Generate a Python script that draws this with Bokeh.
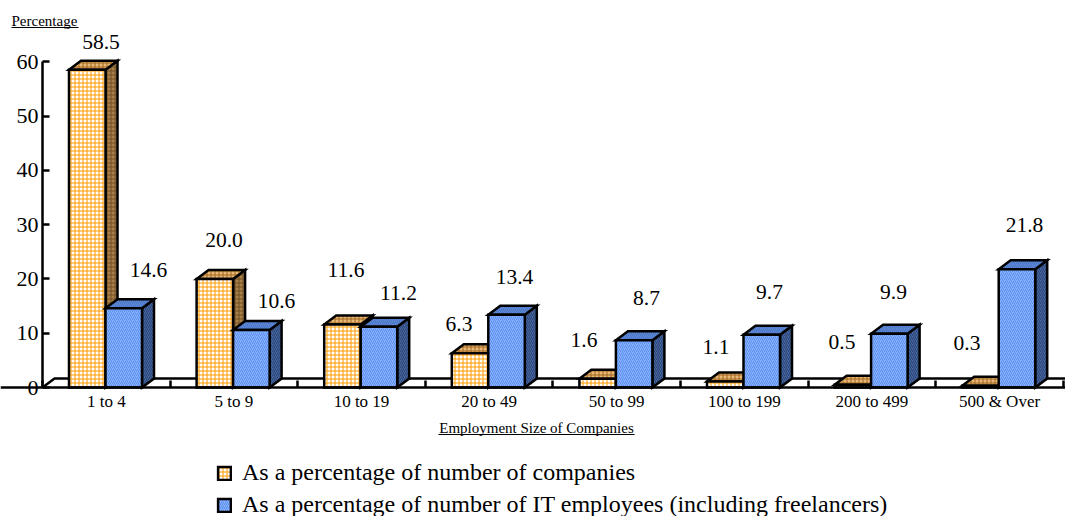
from bokeh.plotting import figure
from bokeh.models import (ColumnDataSource, LinearAxis, FixedTicker, Range1d, Legend, LegendItem)
from bokeh.core.properties import value
from bokeh.embed import file_html
from bokeh.resources import INLINE

categories = ["1 to 4", "5 to 9", "10 to 19", "20 to 49", "50 to 99", "100 to 199", "200 to 499", "500 & Over"]
companies = [58.5, 20.0, 11.6, 6.3, 1.6, 1.1, 0.5, 0.3]
employees = [14.6, 10.6, 11.2, 13.4, 8.7, 9.7, 9.9, 21.8]
y_ticks = [0, 10, 20, 30, 40, 50, 60]
series_names = ["As a percentage of number of companies",
                "As a percentage of number of IT employees (including freelancers)"]

W, H = 1065, 516
X0, Y0 = 42.0, 387.0          # pixel position of the chart origin
PX_X, PX_Y = 127.6, 5.43      # pixels per category / per percent
DX, DY = 12 / PX_X, 9 / PX_Y  # 3-D depth in data units
FONT = "Liberation Serif"
LW = 2.5

def dx(px): return (px - X0) / PX_X
def dy(py): return (Y0 - py) / PX_Y

p = figure(width=W, height=H, output_backend="svg", toolbar_location=None,
           x_range=Range1d(dx(0), dx(W)), y_range=Range1d(dy(H), dy(0)),
           x_axis_type=None, y_axis_type=None, min_border=0, outline_line_color=None,
           background_fill_color="white")
p.grid.visible = False

# floor
p.line([0, DX, dx(W)], [0, DY, DY], line_color="black", line_width=LW)

# axes
yax = LinearAxis(fixed_location=0, ticker=FixedTicker(ticks=y_ticks), bounds=(0, 60))
yax.major_tick_in, yax.major_tick_out = 7, 0
yax.minor_tick_line_color = None
yax.axis_line_width = LW
yax.major_tick_line_width = LW
yax.major_label_text_font = FONT
yax.major_label_text_font_size = "22px"
yax.major_label_text_color = "black"
yax.major_label_standoff = 4
p.add_layout(yax, "left")

xticks = list(range(0, 9))
xax = LinearAxis(fixed_location=0, ticker=FixedTicker(ticks=xticks),
                 major_label_overrides={t: "" for t in xticks})
xax.major_tick_in, xax.major_tick_out = 7, 0
xax.minor_tick_line_color = None
xax.axis_line_width = LW
xax.major_tick_line_width = LW
p.add_layout(xax, "below")

centres = [i + 0.5 for i in range(len(categories))]
xlab = LinearAxis(fixed_location=0, ticker=FixedTicker(ticks=centres),
                  major_label_overrides={c: t for c, t in zip(centres, categories)})
xlab.axis_line_color = None
xlab.major_tick_line_color = None
xlab.minor_tick_line_color = None
xlab.major_label_text_font = FONT
xlab.major_label_text_font_size = "17px"
xlab.major_label_text_color = "black"
xlab.major_label_standoff = -2
p.add_layout(xlab, "below")

BAR_W = 36.5 / PX_X
OFF = (26.5) / PX_X

def bars(vals, left_off, fill, fill_hatch, pat, top_c, top_h, side_c, side_h, scale):
    xl = [i + left_off for i in range(len(vals))]
    xr = [x + BAR_W for x in xl]
    tops = dict(
        xs=[[a, a + DX, b + DX, b] for a, b in zip(xl, xr)],
        ys=[[v, v + DY, v + DY, v] for v in vals])
    sides = dict(
        xs=[[b, b + DX, b + DX, b] for b in xr],
        ys=[[0, DY, v + DY, v] for v in vals])
    common = dict(line_color="black", line_width=LW, line_join="miter",
                  hatch_pattern=pat, hatch_scale=scale, hatch_weight=1)
    p.patches("xs", "ys", source=ColumnDataSource(sides), fill_color=side_c, hatch_color=side_h, **common)
    p.patches("xs", "ys", source=ColumnDataSource(tops), fill_color=top_c, hatch_color=top_h, **common)
    src = ColumnDataSource(dict(x=[(a + b) / 2 for a, b in zip(xl, xr)], top=vals))
    return p.vbar(x="x", top="top", bottom=0, width=BAR_W, source=src, fill_color=fill,
                  hatch_color=fill_hatch, **common)

r1 = bars(companies, OFF, "#ffffff", "#ff9a00", "cross", "#e8b878", "#a06820", "#a88048", "#705028", 4)
r2 = bars(employees, OFF + BAR_W, "#8ab4ff", "#5a8cf0", "right_diagonal_line", "#5f8ad8", "#4a74c4", "#46659c", "#2a4478", 4)

# value labels, each offset by hand from its bar top as in the reference
xo1 = [101 - 87.25, 224 - 214.85, 346 - 342.45, 459 - 470.05, 584 - 597.65, 716 - 725.25, 842 - 852.85, 967 - 980.45]
yo1 = [-28, -39, -55, -29, -39, -35, -43, -43]
xo2 = [149 - 124.25, 277 - 251.85, 399 - 379.45, 515 - 507.05, 647 - 634.65, 770 - 762.25, 894 - 889.85, 1025 - 1017.45]
yo2 = [-38, -29, -34, -38, -42, -43, -42, -44]
for vals, off, xo, yo in ((companies, OFF, xo1, yo1), (employees, OFF + BAR_W, xo2, yo2)):
    src = ColumnDataSource(dict(x=[i + off + BAR_W / 2 for i in range(8)], y=vals,
                                t=[f"{v:.1f}" for v in vals], xo=xo, yo=yo))
    p.text("x", "y", text="t", source=src, x_offset="xo", y_offset="yo", text_align="center",
           text_baseline="middle", text_font=value(FONT), text_font_size="21.5px", text_color="black")

# axis titles with underlines
p.text([dx(11)], [dy(20)], text=["Percentage"], text_font=value(FONT), text_font_size="15px",
       text_baseline="middle", text_color="black")
p.line([dx(11), dx(78)], [dy(27), dy(27)], line_color="black", line_width=1)
p.text([dx(536)], [dy(427)], text=["Employment Size of Companies"], text_font=value(FONT),
       text_font_size="15px", text_baseline="middle", text_align="center", text_color="black")
p.line([dx(438), dx(634)], [dy(434), dy(434)], line_color="black", line_width=1)

legend = Legend(items=[LegendItem(label=series_names[0], renderers=[r1]),
                       LegendItem(label=series_names[1], renderers=[r2])],
                location=(206, -2), orientation="vertical", border_line_color=None,
                background_fill_alpha=0, label_text_font=FONT, label_text_font_size="24px",
                label_text_color="black", glyph_width=16, glyph_height=16, spacing=5,
                label_standoff=10, margin=0, padding=10)
legend.location = (216, -2)
p.add_layout(legend, "center")

open("out.html", "w").write(file_html(p, INLINE))
